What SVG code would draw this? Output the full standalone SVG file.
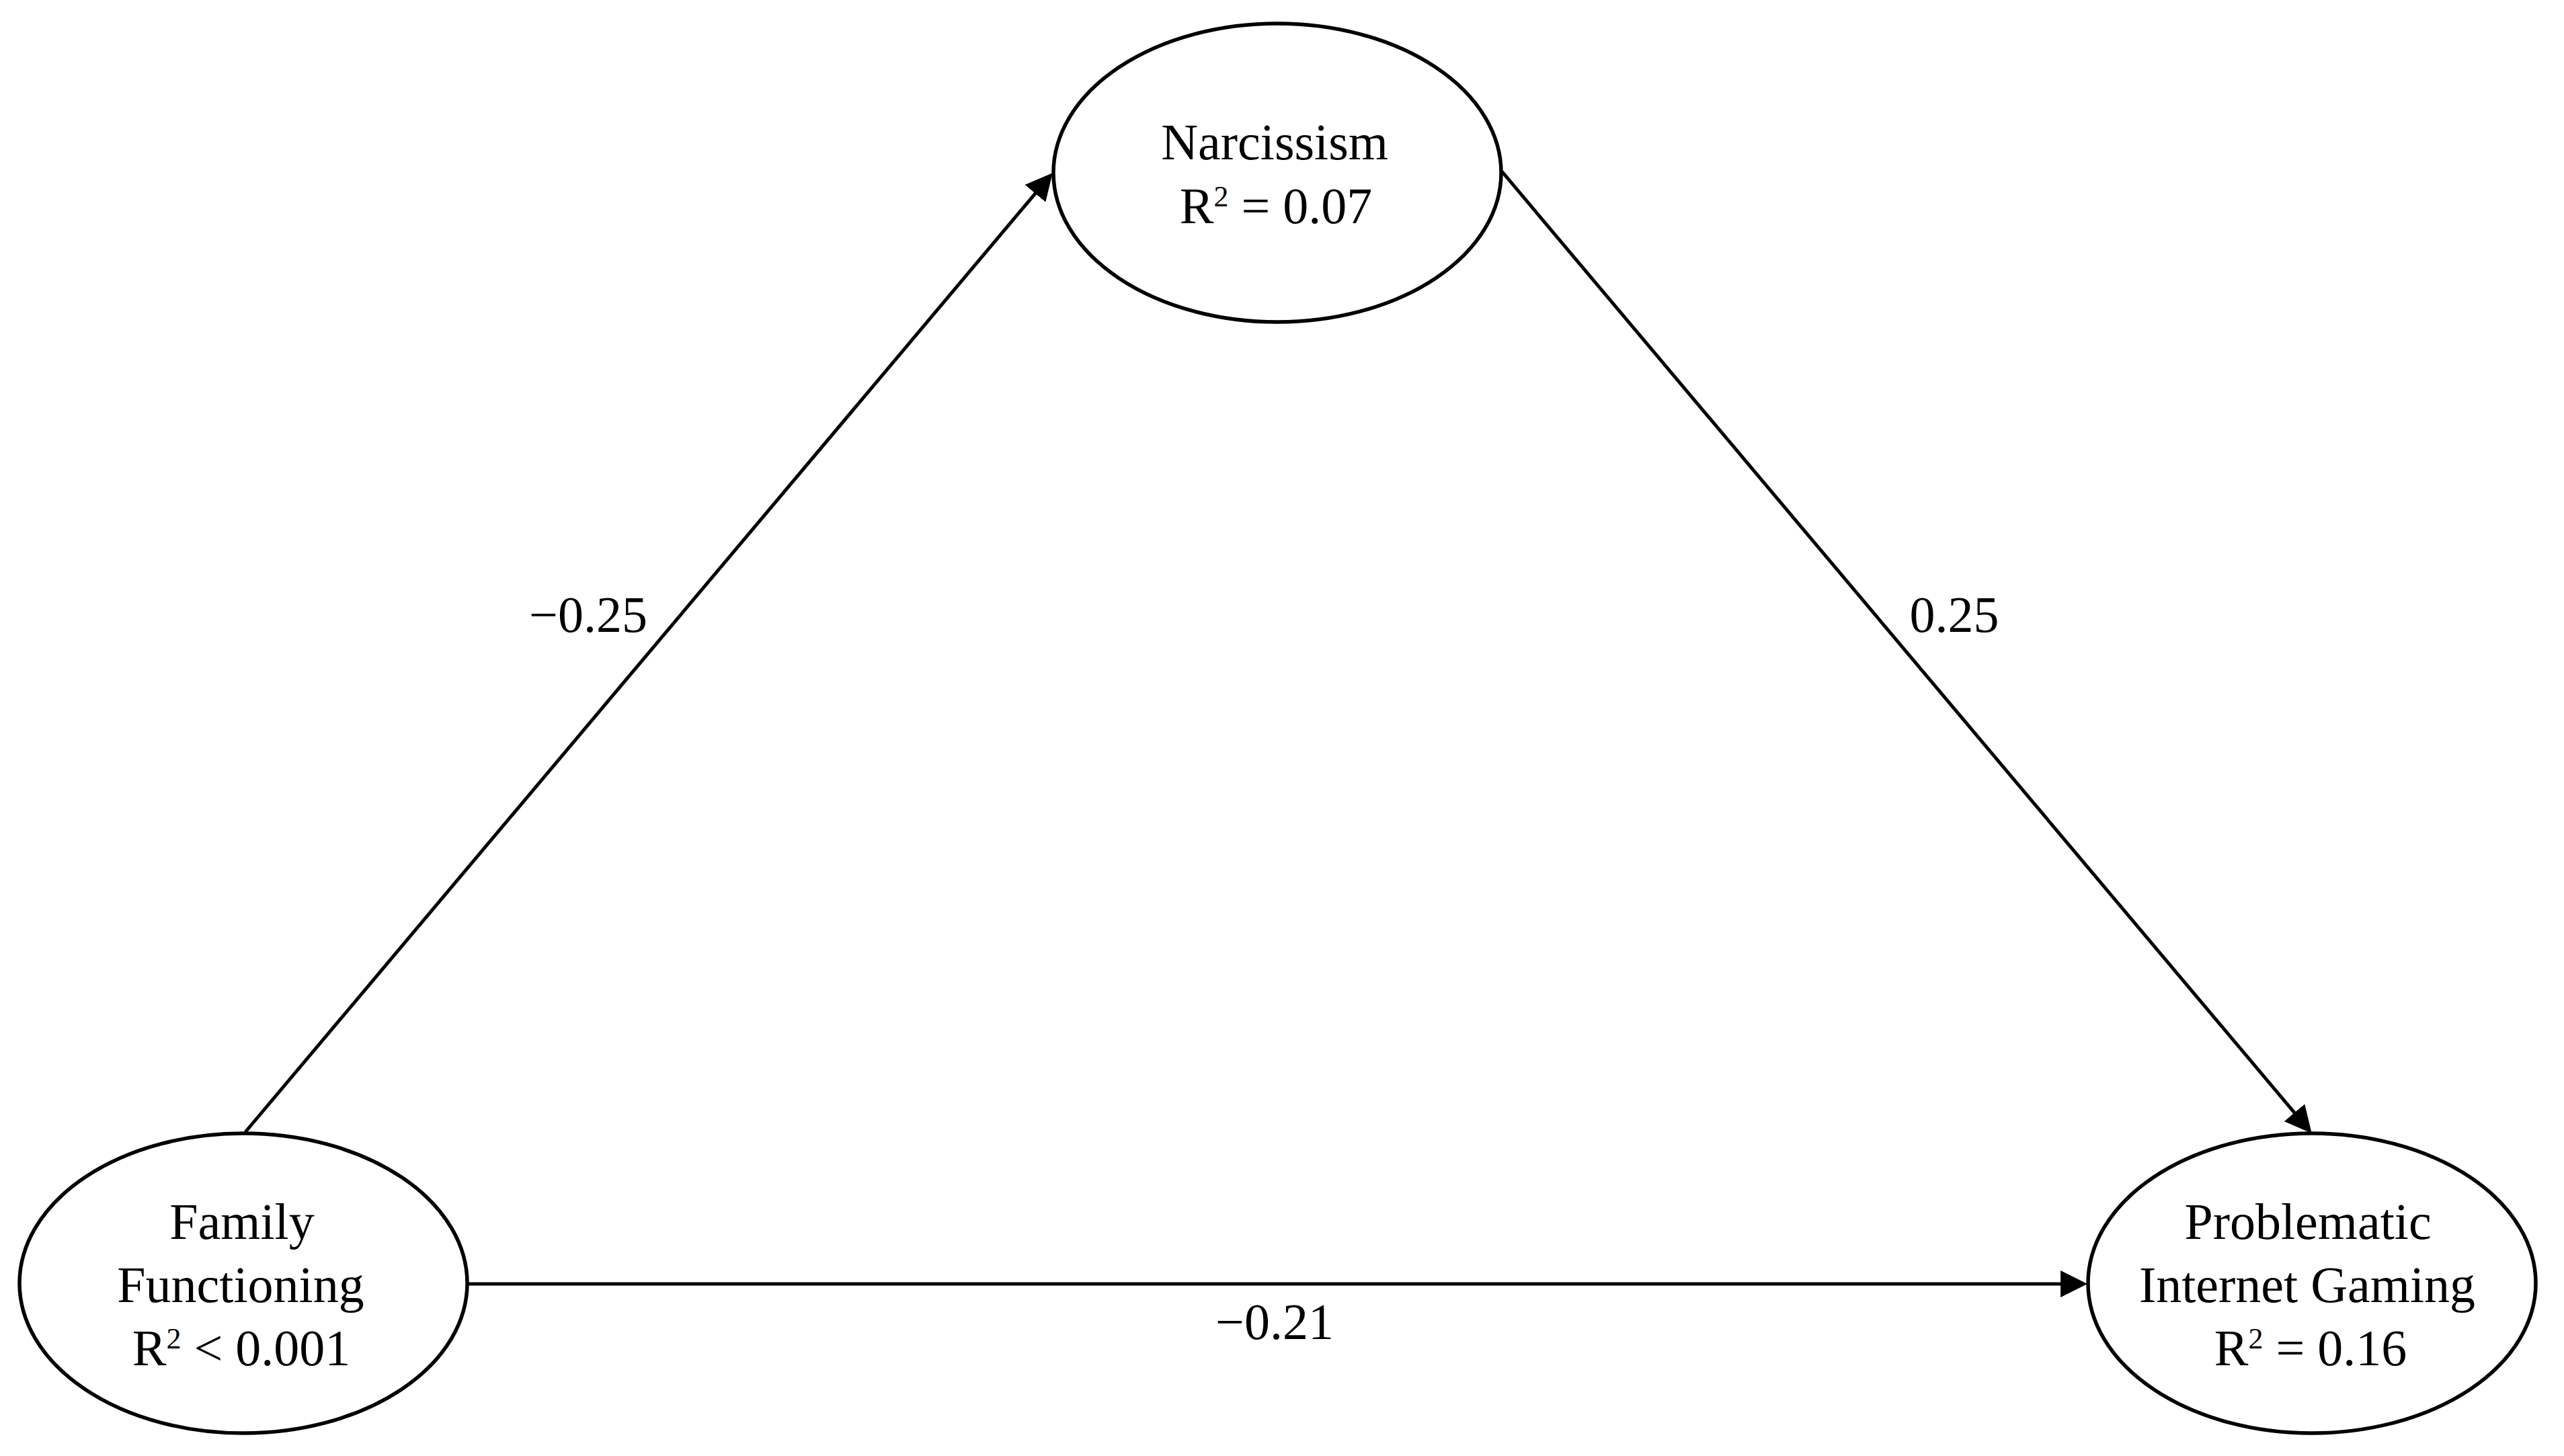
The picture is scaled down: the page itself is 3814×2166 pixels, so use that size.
<svg xmlns="http://www.w3.org/2000/svg" width="3814" height="2166" viewBox="0 0 3814 2166">
<style>
.node{fill:#fff;stroke:#000;stroke-width:5.5}
.edge{fill:none;stroke:#000;stroke-width:5}
text{font-family:"Liberation Serif","Times New Roman",serif;font-size:76px;fill:#000;text-anchor:middle}
.sup{font-size:44px}
</style>
<defs>
<marker id="arrow" markerUnits="userSpaceOnUse" markerWidth="40" markerHeight="40" viewBox="0 0 36 36" refX="26" refY="18" orient="auto">
<path d="M0,0 L36,18 L0,36 z" fill="#000"/>
</marker>
</defs>
<rect width="3814" height="2166" fill="#fff"/>
<g id="connectors">
<line class="edge" x1="365" y1="1684" x2="1558.6" y2="265.7" marker-end="url(#arrow)"/>
<line class="edge" x1="2234" y1="255" x2="3431.6" y2="1677.4" marker-end="url(#arrow)"/>
<line class="edge" x1="696" y1="1910" x2="3094" y2="1910" marker-end="url(#arrow)"/>
<text x="875" y="940">−0.25</text>
<text x="2907" y="940">0.25</text>
<text x="1896" y="1992">−0.21</text>
</g>
<g id="narcissism">
<ellipse class="node" cx="1900" cy="257" rx="333" ry="222"/>
<text x="1896" y="237">Narcissism</text>
<text x="1898" y="332">R<tspan class="sup" dy="-25">2</tspan><tspan dy="25"> = 0.07</tspan></text>
</g>
<g id="family-functioning">
<ellipse class="node" cx="362" cy="1909" rx="333" ry="223"/>
<text x="360" y="1843">Family</text>
<text x="358" y="1937">Functioning</text>
<text x="359" y="2031">R<tspan class="sup" dy="-25">2</tspan><tspan dy="25"> &lt; 0.001</tspan></text>
</g>
<g id="problematic-internet-gaming">
<ellipse class="node" cx="3439" cy="1909" rx="333" ry="223"/>
<text x="3433" y="1843">Problematic</text>
<text x="3432" y="1937">Internet Gaming</text>
<text x="3437" y="2031">R<tspan class="sup" dy="-25">2</tspan><tspan dy="25"> = 0.16</tspan></text>
</g>
</svg>
